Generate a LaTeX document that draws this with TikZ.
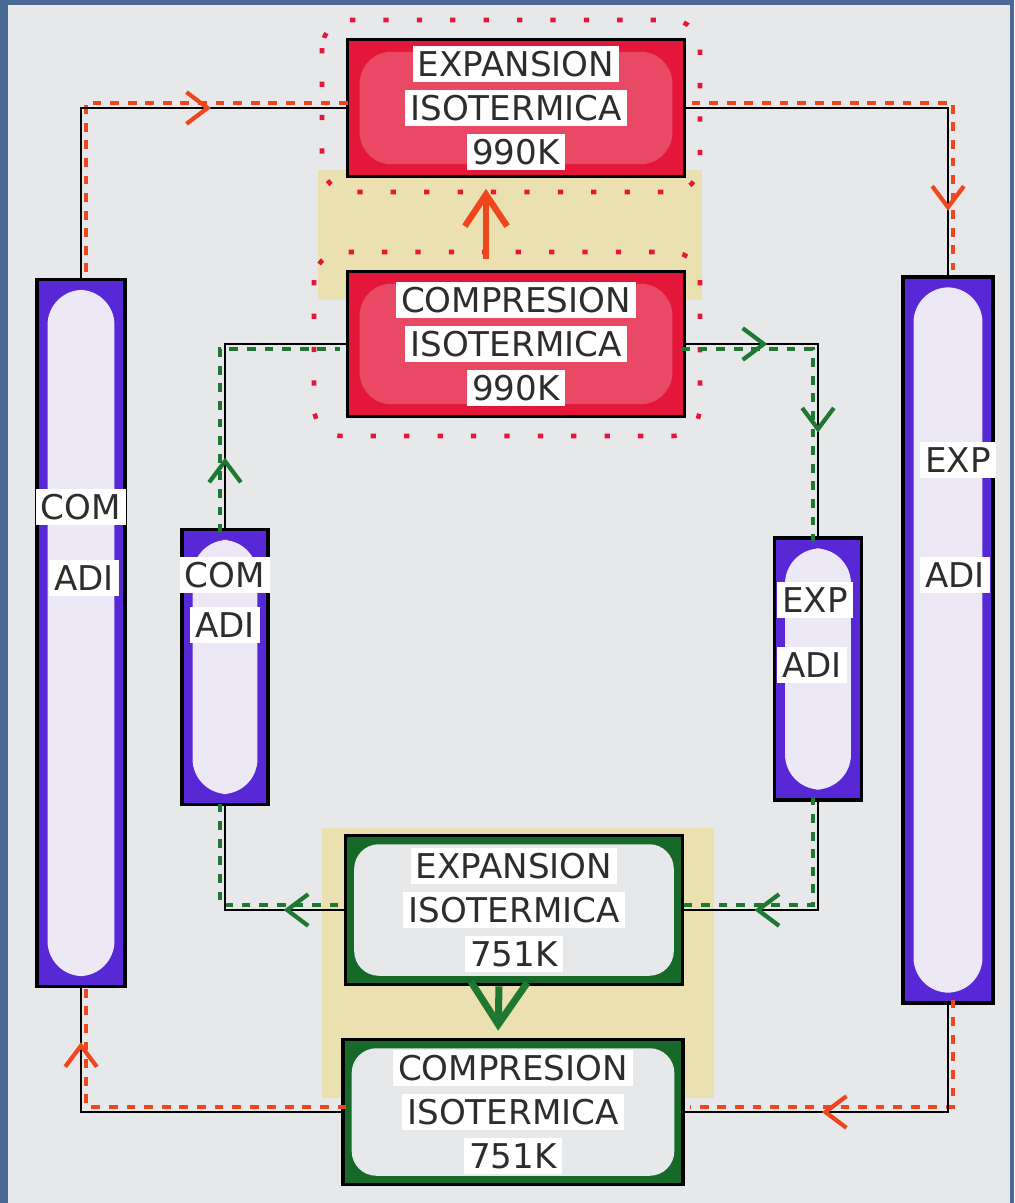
\documentclass[tikz,border=0pt]{standalone}
\usepackage{fontspec}
\setmainfont{DejaVu Sans}
\usepackage{tikz}
\usetikzlibrary{
  arrows.meta,%
  decorations.markings,%
  positioning
}
\definecolor{bluebg}{RGB}{74,106,148}
\definecolor{paper}{RGB}{231,232,234}
\definecolor{hotred}{RGB}{228,22,58}
\definecolor{coldgreen}{RGB}{22,105,40}
\definecolor{adipurple}{RGB}{88,40,215}
\definecolor{lavender}{RGB}{236,232,246}
\definecolor{glow}{RGB}{244,214,70}
\definecolor{ink}{RGB}{45,45,45}
\definecolor{flowred}{RGB}{240,70,30}
\definecolor{flowgreen}{RGB}{30,120,50}
\setlength{\fboxsep}{1.5pt}
\newcommand{\slip}[1]{\colorbox{white}{#1}}
\tikzset{>=latex}
\tikzset{
  % coloured rim inside a box: rim colour, inner colour, rim width, corner radius
  ring/.style n args={4}{path picture={
      \fill[#1] (path picture bounding box.south west) rectangle (path picture bounding box.north east);
      \fill[#2, rounded corners=#4] ([shift={(#3,#3)}]path picture bounding box.south west)
        rectangle ([shift={(-#3,-#3)}]path picture bounding box.north east);}},
  card/.style={draw=black, line width=1pt, minimum width=3.37cm, align=center,
    font=\fontsize{9.7}{12.5}\selectfont, text=ink, inner sep=0pt},
  hotcard/.style={card, ring={hotred}{hotred!78!white}{3.5pt}{9pt}},
  coldcard/.style={card, ring={coldgreen}{paper}{2.5pt}{7pt}},
  adibar/.style={draw=black, line width=1pt, ring={adipurple}{lavender}{3pt}{10pt}, inner sep=0pt},
  tag/.style={fill=white, inner sep=1.5pt, text=ink, font=\fontsize{9.7}{11}\selectfont},
  halo/.style={draw=hotred, line width=1.3pt, dash pattern=on 1.5pt off 8pt, rounded corners=8pt},
  wire/.style={draw=black, line width=0.6pt},
  reddash/.style={draw=flowred, line width=1.1pt, dash pattern=on 2.5pt off 2.5pt},
  greendash/.style={draw=flowgreen, line width=1.1pt, dash pattern=on 2.5pt off 2.5pt},
  mid/.style 2 args={postaction={decorate, decoration={markings,
        mark=at position #2 with {\arrow[#1, line width=1.2pt]{Straight Barb[length=6pt, width=9pt]}}}}},
  heatup/.style={flowred, line width=1.8pt, -{Straight Barb[length=9pt, width=12pt]}, shorten >=3pt, shorten <=3pt},
  heatdown/.style={flowgreen, line width=2pt, -{Straight Barb[length=12pt, width=16pt]}, shorten >=2pt},
}
\begin{document}
\begin{tikzpicture}[x=0.01cm, y=-0.01cm]
  % the sheet on its blue board
  \fill[bluebg] (0,0) rectangle (1014,1203);
  \useasboundingbox (0,0) rectangle (1014,1203);
  \fill[paper] (8,5) rectangle (1010,1203);
  % crayon between the twin boxes
  \fill[glow, opacity=0.35] (318,170) rectangle (702,300);
  \fill[glow, opacity=0.35] (322,828) rectangle (714,1098);
  \draw[halo] (322,20) rectangle (700,192);
  \draw[halo] (314,252) rectangle (700,436);

  % isothermal boxes
  \node[hotcard, minimum height=1.37cm] (expHot) at (516,108)
    {\slip{EXPANSION}\\\slip{ISOTERMICA}\\\slip{990K}};
  \node[hotcard, minimum height=1.45cm] (compHot) at (516,344)
    {\slip{COMPRESION}\\\slip{ISOTERMICA}\\\slip{990K}};
  \node[coldcard, minimum height=1.49cm] (expCold) at (514,910)
    {\slip{EXPANSION}\\\slip{ISOTERMICA}\\\slip{751K}};
  \node[coldcard, minimum height=1.45cm, minimum width=3.40cm] (compCold) at (513,1112)
    {\slip{COMPRESION}\\\slip{ISOTERMICA}\\\slip{751K}};

  % adiabatic bars
  \node[adibar, minimum width=0.88cm, minimum height=7.07cm] (comOut) at (81,633) {};
  \node[adibar, minimum width=0.86cm, minimum height=2.75cm] (comIn) at (225,667) {};
  \node[adibar, minimum width=0.87cm, minimum height=2.62cm] (expIn) at (818,669) {};
  \node[adibar, minimum width=0.90cm, minimum height=7.26cm] (expOut) at (948,640) {};
  \node[tag] (comOutA) at (81,507) {COM};
  \node[tag] (comOutB) at (84,578) {ADI};
  \node[tag] (comInA) at (225,575) {COM};
  \node[tag] (comInB) at (225,625) {ADI};
  \node[tag] (expInA) at (815,600) {EXP};
  \node[tag] (expInB) at (812,665) {ADI};
  \node[tag] (expOutA) at (958,460) {EXP};
  \node[tag] (expOutB) at (955,575) {ADI};

  % outer cycle
  \draw[reddash, transform canvas={shift={(1.5pt,1.5pt)}}] (comOut.north) |- (expHot.west);
  \draw[reddash, transform canvas={shift={(1.5pt,1.5pt)}}] (expHot.east) -| (expOut.north);
  \draw[reddash, transform canvas={shift={(1.5pt,1.5pt)}}] (expOut.south) |- (compCold.east);
  \draw[reddash, transform canvas={shift={(1.5pt,1.5pt)}}] (compCold.west) -| (comOut.south);
  \draw[wire, mid={flowred}{0.69}] (comOut.north) |- (expHot.west);
  \draw[wire, mid={flowred}{0.85}] (expHot.east) -| (expOut.north);
  \draw[wire, mid={flowred}{0.63}] (expOut.south) |- (compCold.east);
  \draw[wire, mid={flowred}{0.86}] (compCold.west) -| (comOut.south);

  % inner cycle
  \draw[greendash, transform canvas={shift={(-1.5pt,-1.5pt)}}] (comIn.north) |- (compHot.west);
  \draw[greendash, transform canvas={shift={(-1.5pt,-1.5pt)}}] (compHot.east) -| (expIn.north);
  \draw[greendash, transform canvas={shift={(-1.5pt,1.5pt)}}] (expIn.south) |- (expCold.east);
  \draw[greendash, transform canvas={shift={(-1.5pt,1.5pt)}}] (expCold.west) -| (comIn.south);
  \draw[wire, mid={flowgreen}{0.23}] (comIn.north) |- (compHot.west);
  \draw[wire, mid={flowgreen}{0.25}, mid={flowgreen}{0.68}] (compHot.east) -| (expIn.north);
  \draw[wire, mid={flowgreen}{0.71}] (expIn.south) |- (expCold.east);
  \draw[wire, mid={flowgreen}{0.27}] (expCold.west) -| (comIn.south);

  % heat passed between the isothermal pairs
  \draw[heatup] ([xshift=-0.3cm]compHot.north) -- ([xshift=-0.3cm]expHot.south);
  \draw[heatdown] ([xshift=-0.15cm]expCold.south) -- ([xshift=-0.15cm]compCold.north);
\end{tikzpicture}
\end{document}
